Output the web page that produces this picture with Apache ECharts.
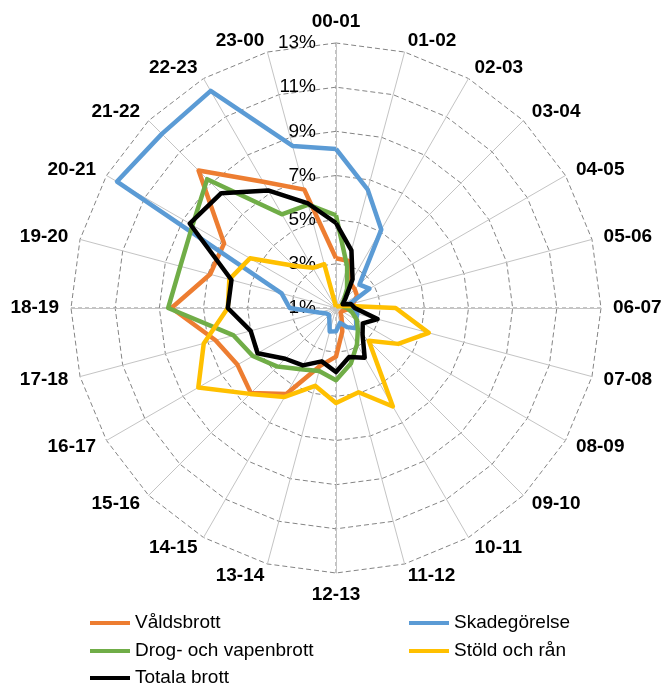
<!DOCTYPE html>
<html>
<head>
<meta charset="utf-8">
<script src="https://cdn.jsdelivr.net/npm/echarts@6/dist/echarts.min.js"></script>
<style>
  html, body { margin: 0; padding: 0; background: #ffffff; }
  #chart { width: 663px; height: 685px; }
</style>
</head>
<body>
<div id="chart"></div>
<script>
// Hour-of-day categories, listed clockwise from the top
const hours = ['00-01', '01-02', '02-03', '03-04', '04-05', '05-06', '06-07', '07-08',
  '08-09', '09-10', '10-11', '11-12', '12-13', '13-14', '14-15', '15-16',
  '16-17', '17-18', '18-19', '19-20', '20-21', '21-22', '22-23', '23-00'];

// Share of offences per hour (%)
const valdsbrott = [3.25, 3.2, 2.3, 2.2, 2.1, 1.8, 1.7, 1.4, 1.3, 1.3, 1.5, 2.1,
  3.2, 3.7, 5.5, 6.45, 6.15, 6.65, 8.45, 6.9, 6.85, 9.8, 7.6, 6.55];
const skadegorelse = [8.2, 6.55, 5.1, 2.5, 2.75, 1.6, 1.7, 2.0, 2.05, 2.3, 2.0, 1.7,
  2.05, 2.1, 1.6, 1.45, 1.5, 1.8, 3.1, 3.55, 12.45, 12.15, 12.35, 8.6];
const drogVapen = [5.2, 2.95, 2.0, 1.5, 1.3, 1.3, 1.5, 1.75, 2.1, 2.4, 2.9, 3.6,
  4.27, 3.95, 4.2, 4.75, 5.35, 5.8, 8.6, 8.3, 8.5, 9.25, 5.9, 5.85];
const stoldRan = [1.05, 1.1, 1.1, 1.1, 1.15, 1.4, 3.7, 5.35, 4.25, 3.1, 6.15, 4.95,
  5.3, 4.65, 5.65, 6.5, 8.2, 7.2, 5.9, 6.0, 5.5, 3.7, 3.1, 3.05];
const totala = [4.85, 3.7, 2.5, 1.6, 1.35, 1.7, 1.85, 2.95, 2.4, 2.7, 3.6, 3.3,
  3.9, 3.5, 4.0, 4.25, 5.1, 5.0, 5.9, 5.9, 8.65, 8.35, 7.15, 5.9];

// Radial tick values (%)
const radialTicks = [1, 3, 5, 7, 9, 11, 13];

const seriesNames = ['Våldsbrott', 'Skadegörelse', 'Drog- och vapenbrott', 'Stöld och rån', 'Totala brott'];
const seriesValues = [valdsbrott, skadegorelse, drogVapen, stoldRan, totala];
const seriesColors = ['#ED7D31', '#5B9BD5', '#70AD47', '#FFC000', '#000000'];

const axisMin = radialTicks[0];
const axisMax = radialTicks[radialTicks.length - 1];
const axisStep = radialTicks[1] - radialTicks[0];

// The radar lays indicators out counter-clockwise, so feed hours in reverse
// (keeping 00-01 first) to get a clockwise clock face.
const order = hours.map((_, i) => (hours.length - i) % hours.length);
const ccw = arr => order.map(k => arr[k]);

const FONT = '"Liberation Sans", Arial, Helvetica, sans-serif';
const CENTER = [336, 308];
const RADIUS = 265;

// Legend grid: two columns, three rows
const legendCols = [90, 409];
const legendRows = [613, 641, 668];
const legendSlots = [[0, 0], [1, 0], [0, 1], [1, 1], [0, 2]]; // [col, row] per series

const chart = echarts.init(document.getElementById('chart'), null, { renderer: 'canvas' });

chart.setOption({
  animation: false,
  backgroundColor: '#ffffff',
  radar: {
    center: CENTER,
    radius: RADIUS,
    startAngle: 90,
    splitNumber: radialTicks.length - 1,
    shape: 'polygon',
    nameGap: 12,
    axisName: {
      color: '#000000',
      fontFamily: FONT,
      fontSize: 19,
      fontWeight: 'bold'
    },
    axisLine: { lineStyle: { color: '#c4c4c4', width: 1 } },
    axisTick: { show: false },
    axisLabel: { show: false },
    splitLine: { lineStyle: { color: '#858585', width: 1, type: [5, 3] } },
    splitArea: { show: false },
    indicator: ccw(hours).map(h => ({ name: h, min: axisMin, max: axisMax }))
  },
  // Polar system sharing the radar's centre and radius: % labels and the
  // dashed vertical/horizontal cross
  polar: { center: CENTER, radius: RADIUS },
  angleAxis: {
    type: 'value',
    min: 0,
    max: 360,
    interval: 90,
    startAngle: 90,
    axisLine: { show: false },
    axisTick: { show: false },
    axisLabel: { show: false },
    splitLine: { show: true, lineStyle: { color: '#8a8a8a', width: 1, type: [4, 3] } }
  },
  radiusAxis: {
    type: 'value',
    min: axisMin,
    max: axisMax,
    interval: axisStep,
    axisLine: { show: false },
    axisTick: { show: false },
    splitLine: { show: false },
    axisLabel: {
      formatter: '{value}%',
      color: '#000000',
      fontFamily: FONT,
      fontSize: 19,
      margin: 20
    },
    z: 1
  },
  legend: seriesNames.map((name, i) => ({
    left: legendCols[legendSlots[i][0]],
    top: legendRows[legendSlots[i][1]],
    icon: 'rect',
    itemWidth: 40,
    itemHeight: 4,
    padding: 0,
    textStyle: { color: '#000000', fontFamily: FONT, fontSize: 19, lineHeight: 20 },
    data: [name]
  })),
  series: seriesNames.map((name, i) => ({
    type: 'radar',
    name: name,
    symbol: 'none',
    z: 2 + i,
    lineStyle: { color: seriesColors[i], width: 4.5, join: 'round' },
    itemStyle: { color: seriesColors[i] },
    data: [{ name: name, value: ccw(seriesValues[i]) }]
  }))
});
</script>
</body>
</html>
